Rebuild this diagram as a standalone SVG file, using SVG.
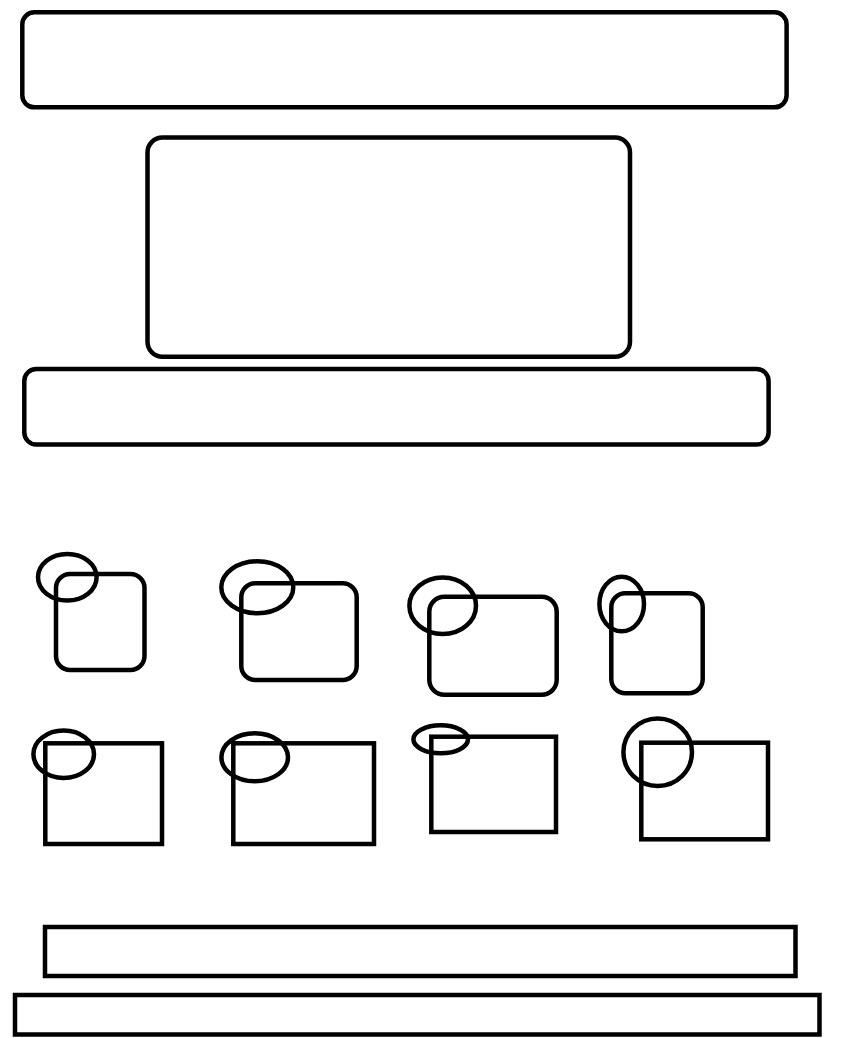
<svg xmlns="http://www.w3.org/2000/svg" width="852" height="1038" viewBox="0 0 852 1038">
<style>
.s{fill:none;stroke:#000;stroke-width:4.5}
</style>
<rect width="852" height="1038" fill="#fff"/>
<g id="node-top"><rect class="s" x="22.3" y="12.3" width="764.3" height="95" rx="12"/></g>
<g id="node-center"><rect class="s" x="147.5" y="137.5" width="482.5" height="219.2" rx="15"/></g>
<g id="node-bar"><rect class="s" x="24.3" y="369" width="744.3" height="75.5" rx="12"/></g>
<g id="node-r1"><rect class="s" x="56" y="574" width="88.5" height="96" rx="14"/><ellipse class="s" cx="67.3" cy="577.3" rx="29.3" ry="23.3"/></g>
<g id="node-r2"><rect class="s" x="241.3" y="583.3" width="115.4" height="96.7" rx="14"/><ellipse class="s" cx="257.3" cy="587.3" rx="36" ry="26"/></g>
<g id="node-r3"><rect class="s" x="429.3" y="596.7" width="127.4" height="98" rx="15"/><ellipse class="s" cx="442.7" cy="605.7" rx="33.3" ry="28.3"/></g>
<g id="node-r4"><rect class="s" x="611.3" y="593.3" width="91.4" height="100" rx="14"/><ellipse class="s" cx="621.7" cy="604" rx="22.3" ry="27.3"/></g>
<g id="node-s1"><rect class="s" x="45.3" y="743.3" width="116.7" height="100.7"/><ellipse class="s" cx="63.7" cy="754.3" rx="30.3" ry="23.7"/></g>
<g id="node-s2"><rect class="s" x="233.3" y="743.3" width="140.7" height="100.7"/><ellipse class="s" cx="254.7" cy="757.3" rx="33.3" ry="24"/></g>
<g id="node-s3"><rect class="s" x="431.3" y="736.7" width="124.7" height="95.3"/><ellipse class="s" cx="440.7" cy="739.3" rx="27.3" ry="14"/></g>
<g id="node-s4"><rect class="s" x="641.3" y="742.7" width="126.7" height="96.6"/><ellipse class="s" cx="657.7" cy="752.3" rx="34.3" ry="33.7"/></g>
<g id="node-base1"><rect class="s" x="45" y="927" width="750.5" height="49"/></g>
<g id="node-base2"><rect class="s" x="15" y="995" width="804.5" height="39.5"/></g>
<g id="connectors"></g>
</svg>
